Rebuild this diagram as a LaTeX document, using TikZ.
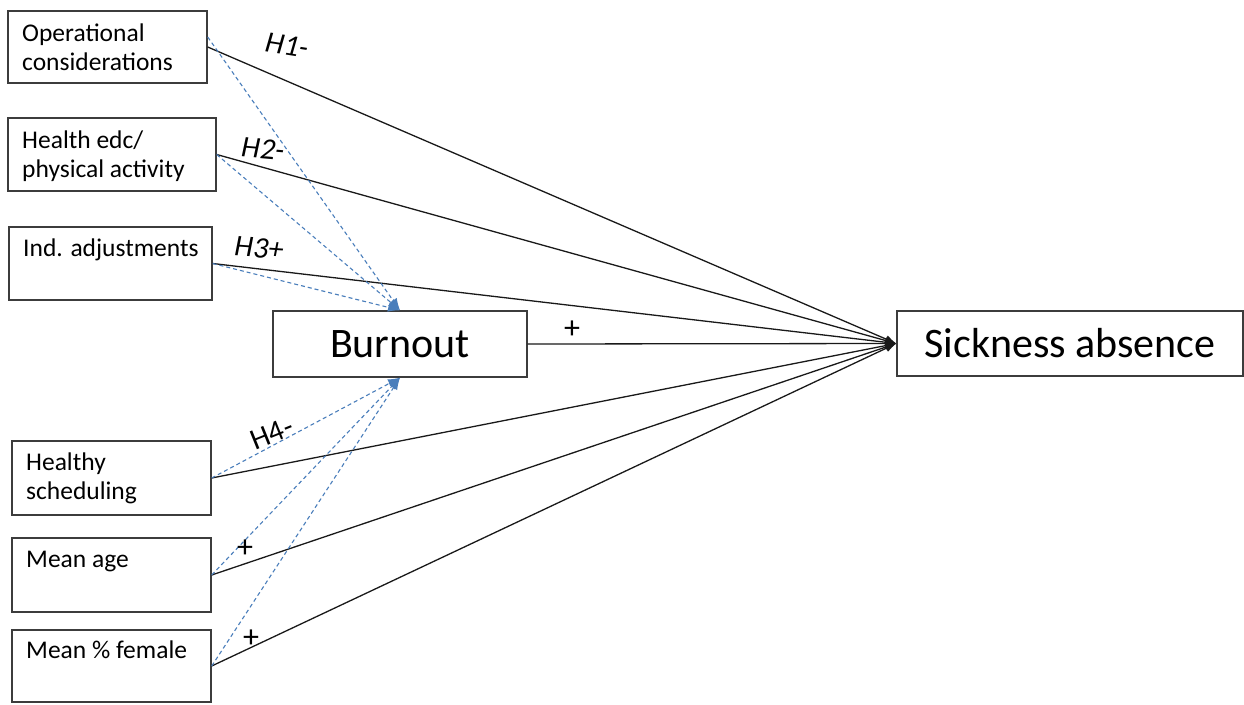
\documentclass[tikz,border=0pt]{standalone}
\usepackage{fontspec}
\setmainfont{Carlito}
\usetikzlibrary{arrows.meta,calc}
\definecolor{lineblue}{RGB}{74,126,187}
\definecolor{boxgray}{RGB}{60,60,60}
\begin{document}
\begin{tikzpicture}[x=1pt,y=-1pt,
  box/.style={draw=boxgray, line width=1.4pt, rectangle, inner sep=0pt},
  boxtext/.style={anchor=north west, inner sep=0pt, align=left,
    font=\fontsize{25.5}{29}\selectfont},
  big/.style={font=\fontsize{42}{50}\selectfont},
  hyp/.style={font=\itshape\fontsize{30}{36}\selectfont, inner sep=0pt},
  hypup/.style={font=\fontsize{30}{36}\selectfont, inner sep=0pt},
  sign/.style={font=\fontsize{32}{36}\selectfont, inner sep=0pt},
  effect/.style={draw=black!90, line width=1.3pt, -{Latex[length=11pt,width=8pt]}},
  mediate/.style={draw=lineblue, line width=1.1pt, dash pattern=on 4pt off 3pt,
    -{Latex[length=12pt,width=9pt]}}
]
\useasboundingbox (0,0) rectangle (1244,704);

% predictor boxes
\node[box, minimum width=199pt, minimum height=72pt] (op) at (107.5,47) {};
\node[box, minimum width=208pt, minimum height=73pt] (he) at (112,154.5) {};
\node[box, minimum width=203pt, minimum height=73pt] (ind) at (110.5,263.5) {};
\node[box, minimum width=199pt, minimum height=74pt] (hs) at (111.5,478) {};
\node[box, minimum width=199pt, minimum height=74pt] (ma) at (111.5,575) {};
\node[box, minimum width=199pt, minimum height=72pt] (mf) at (111.5,666) {};

% box captions
\node[boxtext] (opt) at (22,20.7) {\strut Operational\\considerations};
\node[boxtext] (het) at (22,127.7) {\strut Health edc/\\physical activity};
\node[boxtext] (indt) at (23,235.7) {\strut Ind. adjustments};
\node[boxtext] (hst) at (26,449.7) {\strut Healthy\\scheduling};
\node[boxtext] (mat) at (26,546.7) {\strut Mean age};
\node[boxtext] (mft) at (26,637.7) {\strut Mean \% female};

% mediator and outcome
\node[box, big, minimum width=254pt, minimum height=66pt] (bo) at (400,344) {Burnout};
\node[box, big, minimum width=346pt, minimum height=65pt] (sa) at (1070,343.5) {Sickness absence};

% direct effects on sickness absence
\draw[effect] (op.east) -- (sa.west);
\draw[effect] (he.east) -- (sa.west);
\draw[effect] (ind.east) -- (sa.west);
\draw[effect] (bo.east) -- (sa.west);
\draw[effect] (hs.east) -- (sa.west);
\draw[effect] (ma.east) -- (sa.west);
\draw[effect] (mf.east) -- (sa.west);

% paths through burnout
\draw[mediate] ($(op.east)+(0,-10)$) -- (bo.north);
\draw[mediate] (he.east) -- (bo.north);
\draw[mediate] (ind.east) -- (bo.north);
\draw[mediate] (hs.east) -- (bo.south);
\draw[mediate] (ma.east) -- (bo.south);
\draw[mediate] (mf.east) -- (bo.south);

% hypothesis labels
\node[hyp, rotate=-9] (h1) at (287,45) {H1-};
\node[hyp, rotate=-5] (h2) at (263,149) {H2-};
\node[hyp, rotate=-4] (h3) at (259,248) {H3+};
\node[hypup, rotate=22] (h4) at (272,433) {H4-};
\node[sign] (s1) at (572,330) {+};
\node[sign] (s2) at (245,549) {+};
\node[sign] (s3) at (251,639) {+};
\end{tikzpicture}
\end{document}
